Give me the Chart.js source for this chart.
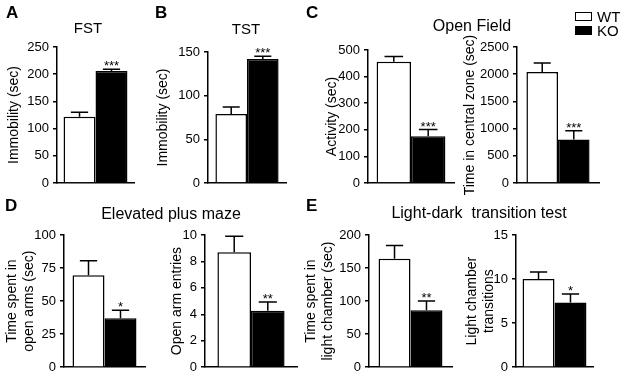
<!DOCTYPE html>
<html><head><meta charset="utf-8">
<script src="https://cdn.jsdelivr.net/npm/chart.js@4.4.1/dist/chart.umd.min.js"></script>
<style>
html,body{margin:0;padding:0;background:#fff;}
#wrap{position:relative;width:630px;height:379px;overflow:hidden;font-family:"Liberation Sans",Arial,sans-serif;color:#000;}
canvas{position:absolute;left:0;top:0;}
.t{position:absolute;white-space:pre;transform:translate(-50%,-50%);line-height:1;}
.L{position:absolute;font-weight:bold;font-size:17px;line-height:1;}
.box{position:absolute;box-sizing:border-box;border:1.5px solid #000;}
.lg{position:absolute;font-size:15px;line-height:1;transform:translateY(-50%);}
</style></head><body>
<div id="wrap">
<canvas id="cA" width="630" height="379"></canvas>
<canvas id="cB" width="630" height="379"></canvas>
<canvas id="cC1" width="630" height="379"></canvas>
<canvas id="cC2" width="630" height="379"></canvas>
<canvas id="cD1" width="630" height="379"></canvas>
<canvas id="cD2" width="630" height="379"></canvas>
<canvas id="cE1" width="630" height="379"></canvas>
<canvas id="cE2" width="630" height="379"></canvas>
<div class="L" style="left:6px;top:4px">A</div>
<div class="L" style="left:155px;top:4px">B</div>
<div class="L" style="left:306px;top:4px">C</div>
<div class="L" style="left:5px;top:197px">D</div>
<div class="L" style="left:306px;top:197px">E</div>
<div class="t" style="left:88px;top:27px;font-size:15px">FST</div>
<div class="t" style="left:246px;top:28px;font-size:15px">TST</div>
<div class="t" style="left:472px;top:26px;font-size:16px">Open Field</div>
<div class="t" style="left:171px;top:214px;font-size:16px">Elevated plus maze</div>
<div class="t" style="left:479px;top:213px;font-size:16px">Light-dark  transition test</div>
<div class="box" style="left:575px;top:12px;width:17px;height:9px;background:#fff"></div>
<div class="box" style="left:575px;top:26px;width:17px;height:9px;background:#000"></div>
<div class="lg" id="lgWT" style="left:597px;top:16px"></div>
<div class="lg" id="lgKO" style="left:597px;top:30px"></div>
</div>
<script>
const groups = ['WT', 'KO'];

const fstMean = [122, 206];
const fstSem = [8, 3];
const fstTicks = [0, 50, 100, 150, 200, 250];

const tstMean = [79, 142];
const tstSem = [8, 3];
const tstTicks = [0, 50, 100, 150];

const activityMean = [456, 176];
const activitySem = [20, 25];
const activityTicks = [0, 100, 200, 300, 400, 500];

const centralMean = [2040, 800];
const centralSem = [165, 160];
const centralTicks = [0, 500, 1000, 1500, 2000, 2500];

const openTimeMean = [69.5, 37];
const openTimeSem = [11, 6];
const openTimeTicks = [0, 25, 50, 75, 100];

const openEntryMean = [8.7, 4.27];
const openEntrySem = [1.2, 0.67];
const openEntryTicks = [0, 2, 4, 6, 8, 10];

const lightTimeMean = [164, 86];
const lightTimeSem = [20, 14];
const lightTimeTicks = [0, 50, 100, 150, 200];

const lightTransMean = [10.0, 7.35];
const lightTransSem = [0.8, 0.95];
const lightTransTicks = [0, 5, 10, 15];

const koStars = ['***', '***', '***', '***', '*', '**', '**', '*'];

const FONT = '"Liberation Sans", Arial, sans-serif';
Chart.defaults.font.family = FONT;
Chart.defaults.color = '#000';

document.getElementById('lgWT').textContent = groups[0];
document.getElementById('lgKO').textContent = groups[1];

const errPlugin = {
  id: 'errbars',
  afterDatasetsDraw(chart) {
    const ctx = chart.ctx, y = chart.scales.y;
    chart.data.datasets.forEach((ds, i) => {
      const el = chart.getDatasetMeta(i).data[0];
      const top = y.getPixelForValue(ds.data[0] + ds.sem[0]);
      const hw = el.width * 0.27;
      ctx.save();
      ctx.strokeStyle = '#000';
      ctx.lineWidth = 1.5;
      ctx.beginPath();
      ctx.moveTo(el.x, el.y);
      ctx.lineTo(el.x, top);
      ctx.moveTo(el.x - hw, top);
      ctx.lineTo(el.x + hw, top);
      ctx.stroke();
      if (ds.star) {
        ctx.fillStyle = '#000';
        ctx.font = '13px ' + FONT;
        ctx.textAlign = 'center';
        ctx.textBaseline = 'alphabetic';
        ctx.fillText(ds.star, el.x, top + 1);
      }
      ctx.restore();
    });
  }
};

function panel(id, mean, sem, ticks, star, yTitle, box) {
  const padL = box.tx - 8.4;
  new Chart(document.getElementById(id), {
    type: 'bar',
    data: {
      labels: [''],
      datasets: groups.map((g, i) => ({
        label: g,
        data: [mean[i]],
        sem: [sem[i]],
        star: i === 1 ? star : '',
        backgroundColor: i ? '#000' : '#fff',
        borderColor: '#000',
        borderWidth: 1.5,
        borderSkipped: 'start'
      }))
    },
    options: {
      responsive: false,
      animation: false,
      devicePixelRatio: 1,
      events: [],
      layout: { padding: { left: padL, top: box.y0, right: 630 - box.x1, bottom: 0 } },
      plugins: { legend: { display: false }, tooltip: { enabled: false }, title: { display: false } },
      datasets: { bar: { categoryPercentage: box.cp, barPercentage: 1 } },
      scales: {
        x: {
          ticks: { display: false },
          grid: { display: true, drawOnChartArea: false, drawTicks: false },
          border: { display: true, color: '#000', width: 1.5 },
          afterFit: s => { s.height = 379 - box.y1; }
        },
        y: {
          min: ticks[0],
          max: ticks[ticks.length - 1],
          afterBuildTicks: s => { s.ticks = ticks.map(v => ({ value: v })); },
          ticks: { color: '#000', font: { family: FONT, size: 13 }, padding: 4, callback: v => String(v) },
          grid: { drawOnChartArea: false, drawTicks: true, tickLength: 4, color: '#000', lineWidth: 1.5 },
          border: { display: true, color: '#000', width: 1.5 },
          title: { display: true, text: yTitle, color: '#000', font: { family: FONT, size: 14 }, padding: 0 },
          afterFit: s => { s.width = box.x0 - padL; }
        }
      }
    },
    plugins: [errPlugin]
  });
}

panel('cA', fstMean, fstSem, fstTicks, koStars[0], 'Immobility (sec)', { x0: 57, y0: 47, x1: 134, y1: 183, tx: 14.5, cp: 0.83 });
panel('cB', tstMean, tstSem, tstTicks, koStars[1], 'Immobility (sec)', { x0: 208, y0: 52, x1: 286, y1: 183, tx: 163.5, cp: 0.81 });
panel('cC1', activityMean, activitySem, activityTicks, koStars[2], 'Activity (sec)', { x0: 368, y0: 50, x1: 454, y1: 183, tx: 332, cp: 0.80 });
panel('cC2', centralMean, centralSem, centralTicks, koStars[3], 'Time in central zone (sec)', { x0: 517, y0: 47, x1: 599, y1: 183, tx: 470, cp: 0.77 });
panel('cD1', openTimeMean, openTimeSem, openTimeTicks, koStars[4], ['Time spent in', 'open arms (sec)'], { x0: 64, y0: 235, x1: 145, y1: 370, tx: 12, cp: 0.79 });
panel('cD2', openEntryMean, openEntrySem, openEntryTicks, koStars[5], 'Open arm entries', { x0: 205, y0: 235, x1: 297, y1: 370, tx: 177.5, cp: 0.73 });
panel('cE1', lightTimeMean, lightTimeSem, lightTimeTicks, koStars[6], ['Time spent in', 'light chamber (sec)'], { x0: 369, y0: 235, x1: 452, y1: 370, tx: 311.5, cp: 0.77 });
panel('cE2', lightTransMean, lightTransSem, lightTransTicks, koStars[7], ['Light chamber', 'transitions'], { x0: 516, y0: 235, x1: 593, y1: 370, tx: 472, cp: 0.83 });
</script>
</body></html>
